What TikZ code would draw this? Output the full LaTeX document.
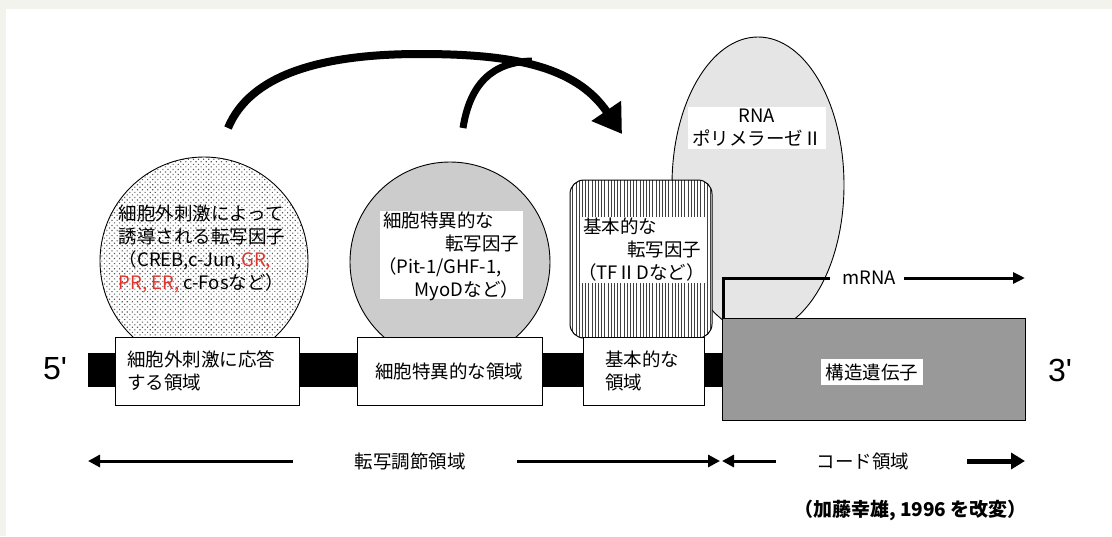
\documentclass[tikz,border=0pt]{standalone}
\usepackage{fontspec}
\setmainfont{Noto Sans CJK JP}
\newfontfamily\lat{Liberation Sans}
\usetikzlibrary{shapes.geometric,patterns.meta,arrows.meta}
\definecolor{pagebg}{HTML}{F3F3EE}
\definecolor{redtxt}{HTML}{E3342B}
\newcommand\lline[2]{\makebox[#1][l]{#2}}
\newcommand\rline[2]{\makebox[#1][r]{#2}}
\begin{document}
\begin{tikzpicture}[x=1pt,y=-1pt,
  lbl/.style={font=\fontsize{18.5}{23}\selectfont, inner sep=0pt},
  regionbox/.style={draw=black, line width=1pt, fill=white, minimum height=68pt, inner sep=0pt},
  bigarrow/.style={line width=8pt, -{Triangle[length=28pt,width=34pt]}},
  botarrow/.style={line width=3pt, -{Triangle[length=12pt,width=12pt]}},
  outline/.style={draw=black, line width=0.9pt},
]
\fill[pagebg] (0,0) rectangle (1112,536);
\fill[white] (6,9) rectangle (1112,536);
\useasboundingbox (0,0) rectangle (1112,536);

% curved arrows
\coordinate (a1s) at (228,128);
\coordinate (apeak) at (420,54);
\coordinate (atip) at (622,134);
\coordinate (a2s) at (463,128);
\coordinate (amerge) at (532,61);
\draw[bigarrow] (a1s) .. controls (250,75) and (320,54) .. (apeak)
   .. controls (510,54) and (575,65) .. (atip);
\draw[line width=7pt] (a2s) .. controls (470,84) and (492,62) .. (amerge);

% transcription factor 1 (dotted circle)
\node[circle, outline, minimum size=208pt, inner sep=0pt,
  preaction={fill=white},
  pattern={Dots[distance=3.6pt,angle=45,radius=0.8pt]}, pattern color=black!65] (tfA) at (204,261) {};
\node[lbl, align=left] (tfAtxt) at (202,249)
  {細胞外刺激によって\\誘導される転写因子\\（CREB,c-Jun,\textcolor{redtxt}{GR,}\\\textcolor{redtxt}{PR, ER,} c-Fosなど）};

% transcription factor 2 (grey circle)
\node[circle, outline, minimum size=200pt, inner sep=0pt, fill=black!20] (tfB) at (450,262) {};
\node[fill=white, minimum width=143pt, minimum height=88pt, inner sep=0pt] (tfBbg) at (451,255) {};
\node[lbl, align=left] (tfBtxt) at (451,256)
  {\lline{136pt}{細胞特異的な}\\\rline{136pt}{転写因子}\\\lline{136pt}{\hspace{-5pt}（Pit-1/GHF-1,}\\\rline{136pt}{MyoDなど）}};

% RNA polymerase II
\node[ellipse, outline, fill=black!10, minimum width=172pt, minimum height=296pt, inner sep=0pt] (pol) at (758,185) {};
\node[fill=white, minimum width=138pt, minimum height=42pt, inner sep=0pt] (polbg) at (757,128) {};
\node[lbl, align=center] (poltxt) at (757,128) {RNA\\ポリメラーゼⅡ};

% basal transcription factor (striped)
\node[draw=black, line width=1pt, rounded corners=14pt, minimum width=142pt, minimum height=158pt, inner sep=0pt,
  preaction={fill=white},
  pattern={Lines[angle=90,distance=3.2pt,line width=1pt]}, pattern color=black!75] (tfC) at (641,259) {};
\node[fill=white, minimum width=124pt, minimum height=66pt, inner sep=0pt] (tfCbg) at (643,250) {};
\node[lbl, align=left] (tfCtxt) at (642,250)
  {\lline{118pt}{基本的な}\\\rline{118pt}{転写因子}\\\lline{118pt}{\hspace{-5pt}（TFⅡDなど）}};

% DNA bar
\node[fill=black, minimum width=634pt, minimum height=34pt, inner sep=0pt] (dna) at (405,370) {};

% regions
\node[regionbox, minimum width=184pt] (r1) at (207,371) {};
\node[lbl, align=left, anchor=west] (r1txt) at (127,371) {細胞外刺激に応答\\する領域};
\node[regionbox, minimum width=185pt] (r2) at (449.5,371) {};
\node[lbl] (r2txt) at (449,371) {細胞特異的な領域};
\node[regionbox, minimum width=121pt] (r3) at (643.5,371) {};
\node[lbl, align=left, anchor=west] (r3txt) at (605,371) {基本的な\\領域};

% structural gene
\node[draw=black, line width=1pt, fill=black!40, minimum width=303pt, minimum height=102pt, inner sep=0pt] (gene) at (873.5,369) {};
\node[lbl, fill=white, inner xsep=5pt, inner ysep=4pt] (genetxt) at (872,372) {構造遺伝子};

% mRNA
\node[lbl] (mtxt) at (869,278) {mRNA};
\coordinate (mend) at (1025,278);
\draw[line width=3pt] ([xshift=1.5pt]gene.north west) |- ([xshift=-12pt]mtxt.west);
\draw[line width=3pt, -{Triangle[length=12pt,width=11pt]}] ([xshift=8pt]mtxt.east) -- (mend);

% 5' 3'
\node[font=\lat\fontsize{32}{32}\selectfont, inner sep=0pt] (five) at (55,369) {5'};
\node[font=\lat\fontsize{32}{32}\selectfont, inner sep=0pt] (three) at (1060,370) {3'};

% bottom arrows
\node[lbl] (regtxt) at (410,461) {転写調節領域};
\node[lbl] (codetxt) at (863,461) {コード領域};
\coordinate (b1) at (88,461);
\coordinate (b2) at (293,461);
\coordinate (b3) at (517,461);
\coordinate (b4) at (720,461);
\coordinate (b5) at (776,461);
\coordinate (b6) at (722,461);
\coordinate (b7) at (967,461);
\coordinate (b8) at (1025,461);
\draw[botarrow] (b2) -- (b1);
\draw[botarrow] (b3) -- (b4);
\draw[botarrow] (b5) -- (b6);
\draw[line width=5pt, -{Triangle[length=14pt,width=16pt]}] (b7) -- (b8);

% citation
\node[font=\bfseries\fontsize{19}{21}\selectfont, inner sep=0pt, anchor=east] (cite) at (1027,510) {（加藤幸雄, 1996 を改変）};
\end{tikzpicture}
\end{document}
